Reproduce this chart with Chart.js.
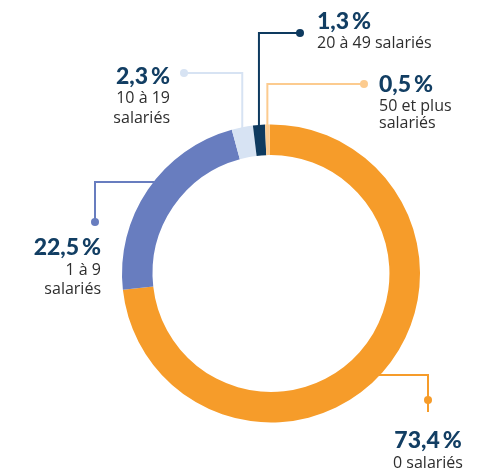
<!DOCTYPE html>
<html><head><meta charset="utf-8">
<script src="https://cdn.jsdelivr.net/npm/chart.js@4/dist/chart.umd.min.js"></script>
<style>html,body{margin:0;padding:0;background:#fff}#wrap{width:485px;height:472px;position:relative}</style>
</head><body><div id="wrap"><canvas id="c" width="485" height="472"></canvas></div>
<script>
const categories = ['0 salariés', '1 à 9 salariés', '10 à 19 salariés', '20 à 49 salariés', '50 et plus salariés'];
const values = [73.4, 22.5, 2.3, 1.3, 0.5];
const valueLabels = ['73,4\u2009%', '22,5\u2009%', '2,3\u2009%', '1,3\u2009%', '0,5\u2009%'];
const subLabels = [['0 salariés'], ['1 à 9', 'salariés'], ['10 à 19', 'salariés'], ['20 à 49 salariés'], ['50 et plus', 'salariés']];
const colors = ['#F69C2A', '#687DBF', '#D7E3F3', '#0E3A5F', '#FCCB8F'];

// label layout (style only)
const layout = [
  {type:'right-down', y:375, x:428, dotY:400, endY:412, align:'center', tx:428, ty:[441,463]},
  {type:'left-down', y:182, x:95, dotY:222, endY:222, align:'right', tx:101, ty:[248,270,289]},
  {type:'up-left', y:73, x:184, align:'right', tx:170, ty:[77,98,118]},
  {type:'up-right', y:33, x:300, align:'left', tx:317, ty:[22,43]},
  {type:'up-right', y:84, x:364, align:'left', tx:379, ty:[85,106,123]}
];

const leaderPlugin = {
  id: 'leaders',
  afterDatasetsDraw(chart) {
    const ctx = chart.ctx;
    const meta = chart.getDatasetMeta(0);
    meta.data.forEach((arc, i) => {
      const p = arc.getProps(['x','y','startAngle','endAngle','outerRadius','innerRadius'], true);
      const mid = (p.startAngle + p.endAngle) / 2;
      const L = layout[i];
      const col = colors[i];
      ctx.save();
      ctx.strokeStyle = col; ctx.fillStyle = col; ctx.lineWidth = 2;
      ctx.beginPath();
      let dot;
      if (L.type.startsWith('up')) {
        const sx = p.x + Math.cos(mid) * p.outerRadius;
        const sy = p.y + Math.sin(mid) * p.outerRadius;
        ctx.moveTo(sx, sy + 1); ctx.lineTo(sx, L.y); ctx.lineTo(L.x, L.y);
        dot = [L.x, L.y];
      } else {
        const dy = L.y - p.y;
        const rm = (p.outerRadius + p.innerRadius) / 2;
        const dx = Math.sqrt(Math.max(rm*rm - dy*dy, 0));
        const sx = L.type === 'right-down' ? p.x + dx : p.x - dx;
        ctx.moveTo(sx, L.y); ctx.lineTo(L.x, L.y); ctx.lineTo(L.x, L.endY);
        dot = [L.x, L.dotY];
      }
      ctx.stroke();
      ctx.beginPath(); ctx.arc(dot[0], dot[1], 4, 0, Math.PI*2); ctx.fill();
      // texts
      ctx.textAlign = L.align; ctx.textBaseline = 'middle';
      ctx.fillStyle = '#123E63';
      ctx.font = '900 23px Lato, "Open Sans", sans-serif';
      ctx.fillText(valueLabels[i], L.tx, L.ty[0]);
      ctx.fillStyle = '#2E2E2E';
      ctx.font = '500 16px "Open Sans", Lato, sans-serif';
      subLabels[i].forEach((s, k) => ctx.fillText(s, L.tx, L.ty[k+1]));
      ctx.restore();
    });
  }
};

new Chart(document.getElementById('c'), {
  type: 'doughnut',
  data: { labels: categories, datasets: [{ data: values, backgroundColor: colors, borderWidth: 0 }] },
  options: {
    responsive: false, animation: false,
    rotation: -0.5,
    cutout: '79.5%',
    layout: { padding: { left: 122, right: 65, top: 124, bottom: 49 } },
    plugins: { legend: { display: false }, tooltip: { enabled: false } }
  },
  plugins: [leaderPlugin]
});
</script></body></html>
